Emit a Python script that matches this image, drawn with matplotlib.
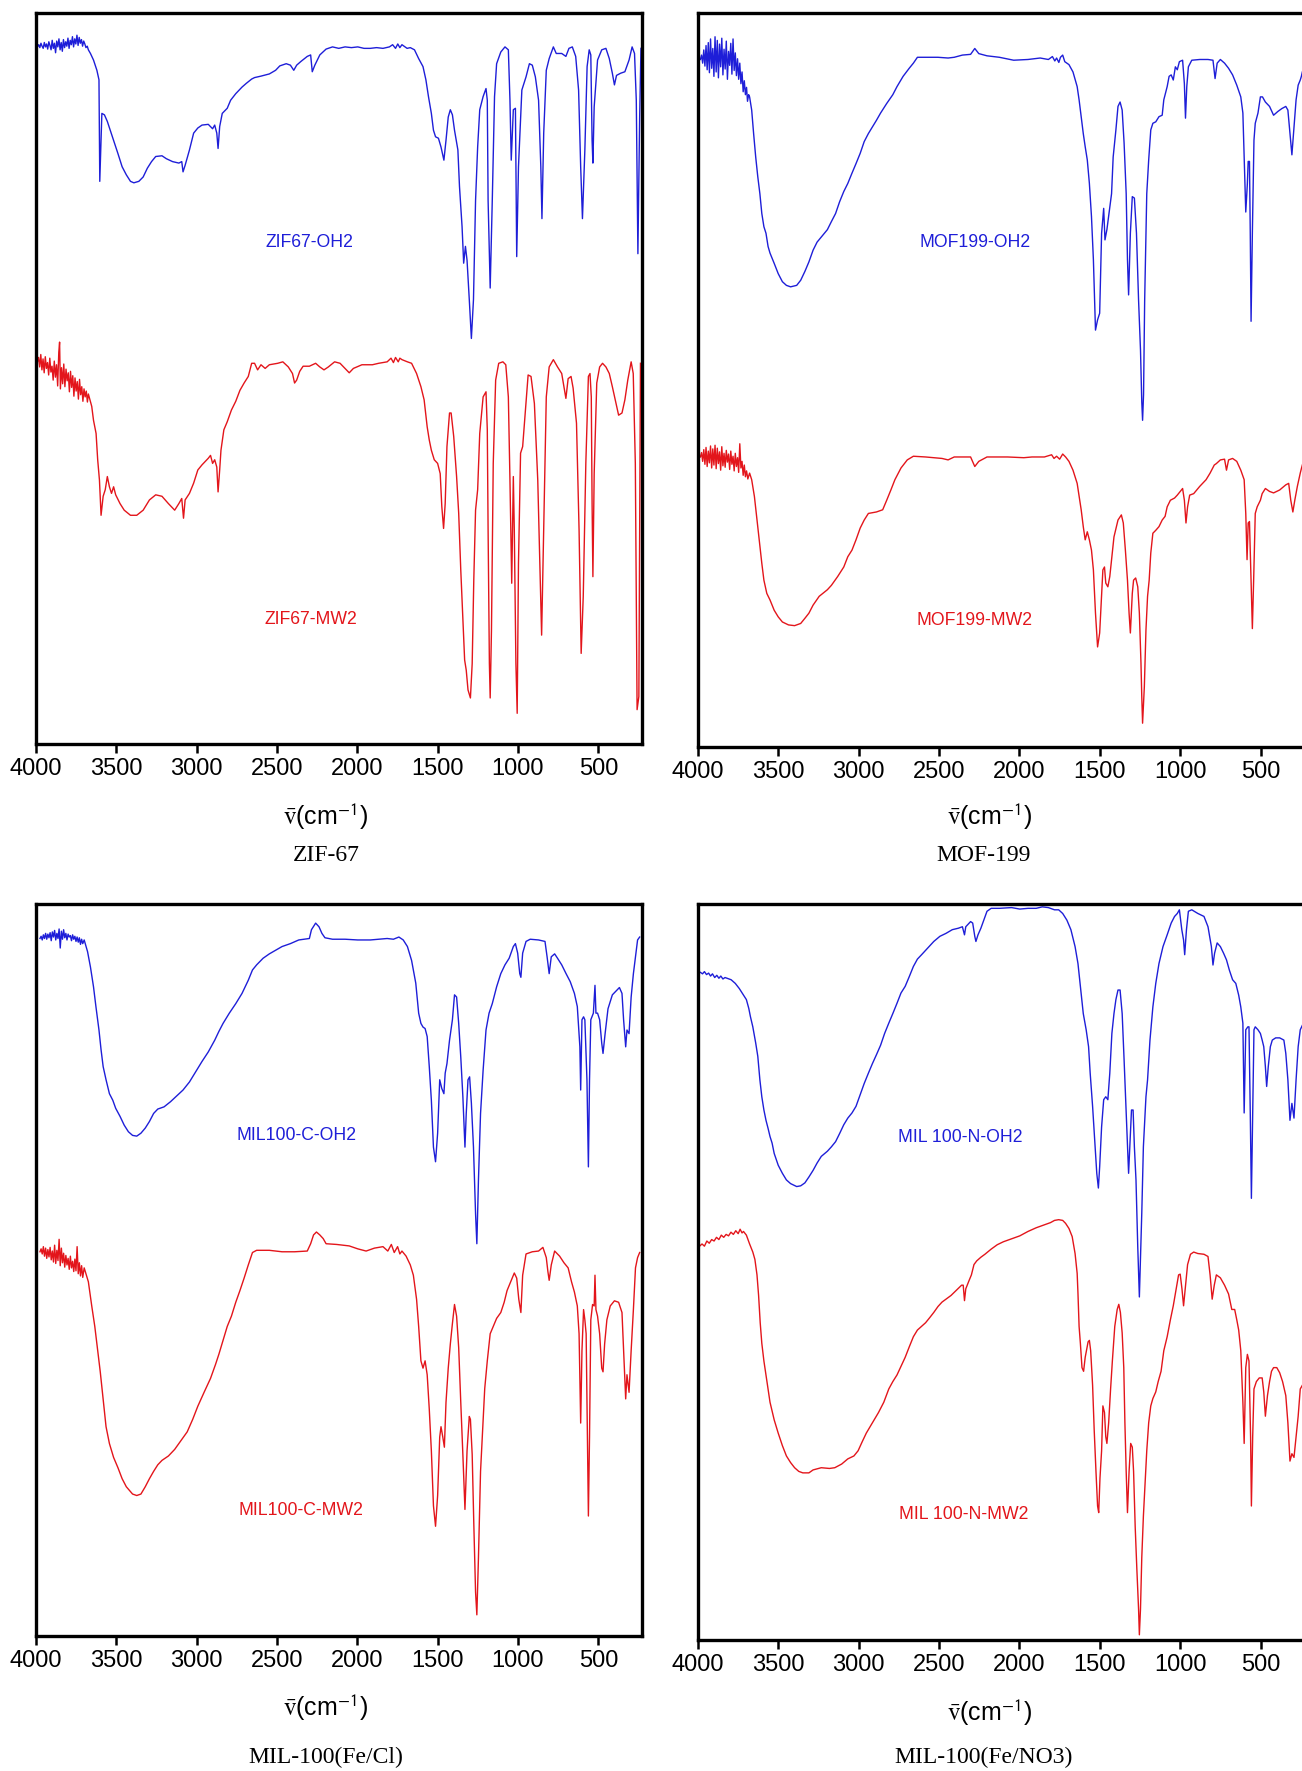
import matplotlib
matplotlib.use('Agg')
import matplotlib.pyplot as plt

plt.rcParams['font.family'] = 'Liberation Sans'
plt.rcParams['mathtext.fontset'] = 'stix'

# ── Spectra: (wavenumber cm-1, relative transmittance, offset traces) ────────
ZIF67_OH2 = [(3990,95.4),(3982,95.7),(3975,95.3),(3968,95.9),(3961,95.5),(3954,95.2),(3947,96.0),(3940,95.4),(3933,95.8),(3926,95.1),(3919,96.1),(3912,95.6),(3905,95.0),(3898,96.3),(3891,95.2),(3884,95.9),(3877,94.6),(3870,96.2),(3863,95.4),(3856,96.5),(3849,95.0),(3842,96.0),(3835,94.8),(3828,96.4),(3821,95.3),(3814,96.1),(3807,95.5),(3800,96.6),(3793,95.2),(3786,96.3),(3779,95.7),(3772,96.8),(3765,95.4),(3758,96.5),(3751,95.8),(3744,97.0),(3737,95.6),(3730,96.7),(3723,95.9),(3716,96.4),(3709,95.5),(3702,96.2),(3695,95.8),(3688,95.3),(3680,95.5),(3673,95.0),(3660,94.5),(3641,93.6),(3620,92.2),(3607,90.9),(3602,77.0),(3589,86.3),(3573,86.1),(3555,85.2),(3537,84.0),(3516,82.6),(3489,80.8),(3463,79.0),(3437,77.9),(3411,77.0),(3390,76.8),(3359,77.0),(3332,77.6),(3306,78.8),(3280,79.7),(3254,80.4),(3215,80.5),(3188,80.1),(3149,79.7),(3110,79.5),(3092,79.7),(3084,78.3),(3071,79.2),(3044,81.3),(3018,83.6),(2992,84.3),(2966,84.7),(2927,84.8),(2900,84.2),(2887,84.7),(2874,83.6),(2866,81.5),(2856,84.5),(2840,86.3),(2809,87.0),(2788,88.1),(2756,89.0),(2717,89.9),(2691,90.4),(2657,91.0),(2639,91.2),(2599,91.4),(2547,91.7),(2508,92.2),(2482,92.8),(2442,93.1),(2416,92.9),(2395,92.2),(2377,92.9),(2351,93.4),(2311,94.1),(2290,94.3),(2280,92.0),(2264,92.9),(2233,94.3),(2194,95.1),(2154,95.4),(2115,95.2),(2076,95.4),(2036,95.3),(1997,95.4),(1958,95.2),(1919,95.2),(1880,95.3),(1840,95.2),(1800,95.4),(1780,95.7),(1762,95.2),(1748,95.8),(1735,95.3),(1722,95.7),(1709,95.5),(1690,95.2),(1670,95.3),(1644,95.0),(1618,93.8),(1591,92.7),(1573,90.9),(1557,88.6),(1539,86.3),(1526,84.0),(1513,83.1),(1495,82.9),(1479,81.7),(1461,79.9),(1448,82.6),(1434,85.8),(1421,86.8),(1408,86.1),(1395,84.0),(1374,81.3),(1364,76.3),(1348,70.8),(1338,65.8),(1327,68.1),(1317,66.2),(1303,60.8),(1290,55.5),(1277,60.8),(1264,74.4),(1251,81.7),(1238,86.8),(1217,88.6),(1199,89.7),(1191,88.1),(1186,74.4),(1173,62.4),(1160,74.4),(1146,88.6),(1133,93.1),(1107,94.7),(1081,95.4),(1060,95.0),(1050,88.1),(1042,79.9),(1029,86.8),(1016,87.0),(1008,66.7),(997,79.0),(976,89.5),(950,91.3),(929,93.1),(911,92.9),(892,91.3),(872,88.1),(858,79.0),(851,71.9),(840,83.6),(824,92.2),(806,93.8),(780,95.4),(762,94.5),(728,94.5),(702,94.1),(683,95.2),(662,95.4),(641,94.1),(623,89.5),(610,79.0),(599,71.9),(584,81.3),(570,92.7),(557,95.0),(547,94.3),(539,82.6),(534,79.5),(526,87.2),(505,93.6),(479,95.0),(453,95.2),(432,93.8),(413,91.8),(400,90.2),(387,91.5),(361,91.8),(335,92.0),(309,93.6),(290,95.4),(275,94.5),(264,88.1),(254,67.1),(243,85.8),(235,95.2)]

ZIF67_MW2 = [(3990,52.3),(3983,52.9),(3976,51.6),(3969,53.3),(3962,51.2),(3955,52.7),(3948,50.8),(3941,53.0),(3934,51.4),(3927,52.2),(3920,50.5),(3913,52.8),(3906,50.9),(3899,51.7),(3892,49.8),(3885,52.4),(3878,50.2),(3871,51.9),(3864,49.0),(3857,53.6),(3852,55.0),(3847,48.6),(3840,51.5),(3833,49.3),(3826,52.0),(3819,48.9),(3812,51.3),(3805,49.7),(3798,50.8),(3791,48.2),(3784,51.0),(3777,48.8),(3770,50.4),(3763,47.6),(3756,50.1),(3749,48.3),(3742,49.6),(3735,47.2),(3728,49.9),(3721,47.8),(3714,48.9),(3707,46.9),(3700,48.6),(3693,47.5),(3686,48.3),(3679,46.8),(3673,47.9),(3652,46.2),(3641,44.3),(3625,42.5),(3615,38.9),(3604,36.1),(3594,31.3),(3581,33.9),(3568,34.8),(3555,36.6),(3542,35.2),(3529,34.3),(3516,35.2),(3503,34.1),(3476,32.9),(3450,32.0),(3411,31.3),(3372,31.3),(3332,32.0),(3293,33.4),(3254,34.1),(3215,33.9),(3175,32.9),(3136,32.0),(3110,32.9),(3092,33.6),(3081,30.9),(3071,33.4),(3044,34.3),(3018,35.7),(2992,37.5),(2966,38.2),(2927,39.1),(2913,39.5),(2900,38.4),(2887,38.9),(2874,37.9),(2866,34.5),(2856,37.5),(2848,40.2),(2830,43.0),(2809,44.1),(2783,45.7),(2756,46.9),(2730,48.4),(2704,49.4),(2678,50.3),(2657,52.1),(2639,52.1),(2620,51.2),(2599,51.9),(2573,51.4),(2547,51.9),(2495,52.1),(2463,52.3),(2429,51.6),(2403,50.7),(2390,49.4),(2377,49.8),(2358,51.0),(2337,51.7),(2298,51.7),(2259,52.1),(2233,51.6),(2207,51.2),(2180,51.6),(2141,52.3),(2107,52.1),(2076,51.4),(2050,50.8),(2024,51.4),(1971,51.9),(1906,51.9),(1867,52.1),(1814,52.3),(1790,52.8),(1775,52.2),(1762,52.9),(1745,52.3),(1735,52.8),(1722,52.6),(1688,52.3),(1662,52.1),(1631,50.7),(1604,48.9),(1584,47.1),(1565,43.4),(1552,41.6),(1539,40.2),(1521,38.9),(1500,38.4),(1484,37.0),(1474,32.5),(1463,29.5),(1453,32.9),(1442,40.7),(1426,45.3),(1416,45.3),(1400,42.1),(1382,36.6),(1369,31.6),(1356,23.8),(1343,17.0),(1332,11.5),(1322,10.1),(1311,7.4),(1296,6.3),(1285,11.0),(1275,22.5),(1264,32.0),(1251,34.8),(1238,42.5),(1217,47.5),(1199,48.2),(1191,43.0),(1186,29.3),(1178,11.0),(1173,6.3),(1165,15.6),(1154,38.4),(1139,49.8),(1120,52.1),(1094,52.3),(1076,51.9),(1060,47.5),(1050,36.1),(1039,22.0),(1029,36.6),(1023,29.3),(1013,11.0),(1005,4.2),(997,24.7),(984,39.8),(971,40.7),(955,45.3),(937,50.5),(919,50.3),(898,46.6),(877,36.1),(864,24.7),(853,14.9),(840,29.3),(824,47.5),(806,51.6),(780,52.6),(754,51.6),(728,50.7),(702,47.3),(688,50.0),(670,50.3),(657,48.7),(636,43.9),(620,29.3),(607,12.4),(594,20.2),(578,38.4),(562,50.3),(552,50.7),(544,47.5),(539,32.9),(534,22.9),(526,37.0),(510,49.4),(492,51.6),(474,52.1),(453,51.6),(432,50.7),(413,48.9),(395,47.1),(374,45.0),(353,45.3),(335,47.1),(317,49.8),(296,52.3),(283,50.7),(270,38.4),(259,4.7),(248,6.5),(238,52.1)]

MOF199_OH2 = [(3985,93.7),(3978,94.3),(3971,93.2),(3964,95.0),(3957,92.8),(3950,95.6),(3943,92.3),(3936,96.0),(3929,91.9),(3922,96.5),(3915,92.5),(3908,95.2),(3901,91.4),(3894,96.8),(3887,92.0),(3880,96.3),(3873,91.2),(3866,95.8),(3859,92.7),(3852,96.6),(3845,91.6),(3838,95.1),(3831,92.4),(3824,96.2),(3817,91.0),(3810,94.8),(3803,92.9),(3796,95.9),(3789,91.7),(3782,96.5),(3775,92.2),(3768,94.6),(3761,91.5),(3754,93.8),(3747,91.0),(3740,93.2),(3733,90.4),(3726,92.0),(3719,89.3),(3712,90.8),(3705,88.9),(3698,89.9),(3692,88.0),(3685,88.9),(3679,88.6),(3666,86.8),(3654,83.6),(3641,80.4),(3628,77.7),(3615,75.4),(3603,72.7),(3590,70.9),(3577,70.0),(3564,68.2),(3552,67.3),(3526,65.9),(3501,64.5),(3475,63.4),(3450,62.9),(3424,62.7),(3386,62.9),(3361,63.6),(3335,64.8),(3310,66.1),(3284,67.7),(3259,68.8),(3221,69.8),(3195,70.5),(3170,71.6),(3144,72.7),(3119,74.3),(3093,75.7),(3068,76.8),(3042,78.2),(3017,79.5),(2991,80.9),(2966,82.5),(2940,83.6),(2915,84.5),(2890,85.4),(2864,86.4),(2826,87.7),(2788,88.9),(2762,90.0),(2724,91.4),(2686,92.5),(2660,93.2),(2635,94.0),(2584,94.0),(2507,94.0),(2444,93.9),(2406,94.0),(2355,94.3),(2304,94.4),(2278,95.2),(2253,94.5),(2202,94.2),(2125,94.0),(2036,93.6),(1947,93.7),(1871,93.9),(1820,93.7),(1795,94.1),(1780,93.5),(1769,93.9),(1755,93.3),(1745,94.0),(1731,94.3),(1718,93.4),(1692,93.0),(1667,92.0),(1641,90.0),(1629,88.2),(1616,85.9),(1603,83.6),(1591,81.8),(1578,80.0),(1565,76.8),(1552,72.3),(1540,66.4),(1527,56.8),(1514,58.2),(1501,59.1),(1489,70.0),(1476,73.4),(1468,69.1),(1456,70.5),(1443,72.7),(1427,75.4),(1417,80.4),(1400,84.1),(1387,87.3),(1374,87.9),(1361,86.8),(1349,82.3),(1336,75.4),(1328,66.4),(1321,61.6),(1310,70.0),(1298,75.0),(1285,74.8),(1272,70.0),(1259,60.9),(1247,54.1),(1239,47.0),(1234,44.5),(1228,48.0),(1221,60.9),(1208,75.4),(1196,80.0),(1183,84.1),(1170,85.0),(1152,85.2),(1132,85.9),(1112,86.1),(1102,88.2),(1081,90.0),(1069,91.4),(1056,91.6),(1043,90.9),(1030,92.7),(1018,92.3),(1005,93.4),(985,93.6),(974,90.4),(967,85.7),(959,90.0),(949,92.7),(928,93.6),(878,93.7),(827,93.7),(796,93.6),(783,91.1),(770,93.2),(750,93.7),(724,93.2),(699,92.5),(674,91.6),(648,90.2),(623,88.6),(610,86.4),(602,80.4),(592,72.9),(582,76.8),(577,79.8),(569,79.8),(564,70.0),(559,58.0),(551,70.0),(541,82.7),(533,85.0),(516,86.4),(501,88.6),(488,88.6),(470,87.9),(444,87.3),(419,86.1),(393,86.6),(368,87.0),(343,87.3),(330,86.8),(317,83.6),(305,80.7),(292,84.5),(279,88.2),(266,90.2),(253,90.9),(246,91.4),(240,92.0),(232,92.5)]

MOF199_MW2 = [(3985,39.5),(3978,40.1),(3971,38.9),(3964,40.5),(3957,38.5),(3950,40.8),(3943,38.2),(3936,40.3),(3929,38.7),(3922,41.0),(3915,38.0),(3908,40.6),(3901,38.4),(3894,41.1),(3887,37.9),(3880,40.7),(3873,38.6),(3866,40.2),(3859,37.7),(3852,40.9),(3845,38.3),(3838,40.0),(3831,38.1),(3824,40.4),(3817,38.8),(3810,39.9),(3803,37.8),(3796,40.3),(3789,38.5),(3782,39.6),(3775,37.6),(3768,40.0),(3761,38.2),(3754,39.4),(3747,37.4),(3740,41.3),(3733,38.0),(3726,38.9),(3719,37.0),(3712,38.4),(3705,36.8),(3698,37.6),(3690,36.5),(3679,37.3),(3666,36.4),(3649,34.1),(3633,30.9),(3615,27.3),(3603,25.0),(3590,22.7),(3572,20.9),(3552,20.0),(3526,18.6),(3501,17.7),(3475,17.0),(3437,16.6),(3399,16.5),(3361,16.8),(3335,17.5),(3310,18.2),(3284,19.3),(3246,20.5),(3195,21.4),(3170,22.0),(3131,23.2),(3093,24.5),(3068,25.9),(3042,26.8),(3017,28.2),(2991,29.8),(2966,30.9),(2940,31.8),(2890,32.0),(2851,32.3),(2826,33.6),(2800,35.0),(2775,36.4),(2737,38.0),(2698,39.1),(2660,39.6),(2584,39.5),(2482,39.3),(2444,39.1),(2406,39.5),(2304,39.5),(2278,38.2),(2253,38.9),(2202,39.5),(2074,39.5),(1973,39.4),(1922,39.5),(1845,39.5),(1800,39.8),(1785,39.3),(1769,39.6),(1750,39.2),(1731,39.9),(1713,39.5),(1692,38.9),(1667,37.7),(1641,35.9),(1616,32.3),(1603,30.0),(1591,28.2),(1578,29.3),(1565,28.2),(1552,26.8),(1540,24.1),(1527,18.2),(1514,13.6),(1501,15.5),(1489,20.5),(1481,24.1),(1471,24.5),(1463,22.3),(1450,21.8),(1438,23.2),(1425,25.9),(1412,28.6),(1387,30.9),(1366,31.6),(1354,30.5),(1341,26.8),(1328,22.7),(1318,18.2),(1310,15.5),(1298,20.9),(1290,22.7),(1277,23.0),(1264,21.8),(1254,18.2),(1244,11.4),(1239,6.8),(1234,3.2),(1223,8.2),(1213,15.9),(1203,20.5),(1193,22.7),(1183,26.4),(1170,29.1),(1152,29.5),(1132,30.0),(1112,30.9),(1094,31.4),(1081,32.7),(1061,33.6),(1035,33.9),(1018,34.3),(1000,34.8),(985,35.2),(974,33.6),(964,30.5),(954,32.7),(941,34.3),(916,34.5),(878,35.5),(839,36.4),(814,37.3),(788,38.4),(775,38.6),(750,39.1),(724,39.2),(712,37.7),(699,39.1),(674,39.3),(648,38.9),(623,37.7),(602,36.4),(592,31.8),(584,25.5),(577,30.5),(569,30.7),(559,22.7),(551,16.1),(543,22.7),(533,31.8),(521,32.7),(501,33.6),(490,34.5),(470,35.2),(444,34.8),(419,34.6),(381,35.0),(343,35.7),(325,35.9),(312,33.6),(299,32.0),(287,33.6),(271,35.5),(253,37.3),(245,38.0),(235,38.8)]

MIL100C_OH2 = [(3974,95.3),(3967,95.6),(3960,95.1),(3953,95.8),(3946,95.3),(3939,96.0),(3932,95.2),(3925,95.9),(3918,95.4),(3911,96.1),(3904,95.0),(3897,96.2),(3890,95.5),(3883,96.4),(3876,95.1),(3869,96.0),(3862,95.3),(3855,96.6),(3848,94.0),(3841,96.3),(3834,95.2),(3827,96.5),(3820,95.4),(3813,96.0),(3806,95.1),(3799,95.9),(3792,95.5),(3785,95.7),(3778,95.0),(3771,95.8),(3764,95.2),(3757,95.6),(3750,94.9),(3743,95.5),(3736,94.8),(3729,95.4),(3722,94.5),(3715,95.2),(3708,94.6),(3699,95.1),(3678,93.5),(3660,91.4),(3641,88.7),(3626,86.0),(3607,82.8),(3594,80.1),(3581,77.8),(3563,76.0),(3542,74.1),(3521,73.2),(3503,72.1),(3476,71.0),(3450,69.8),(3424,68.9),(3398,68.4),(3372,68.3),(3346,68.7),(3319,69.4),(3293,70.3),(3267,71.4),(3241,72.0),(3202,72.3),(3162,73.0),(3123,73.8),(3084,74.6),(3044,75.7),(3005,77.1),(2966,78.5),(2927,79.8),(2887,81.4),(2861,82.6),(2835,83.7),(2796,85.1),(2756,86.4),(2717,87.8),(2678,89.6),(2652,91.0),(2626,91.7),(2586,92.6),(2547,93.2),(2508,93.7),(2468,94.2),(2416,94.6),(2364,95.1),(2298,95.3),(2285,96.5),(2259,97.4),(2238,96.9),(2220,96.0),(2201,95.4),(2154,95.2),(2076,95.2),(1997,95.1),(1919,95.1),(1866,95.2),(1814,95.3),(1775,95.2),(1741,95.5),(1714,95.1),(1688,94.2),(1662,92.3),(1636,89.2),(1618,85.1),(1604,83.7),(1591,83.2),(1578,83.0),(1565,81.9),(1552,77.8),(1539,73.2),(1526,66.8),(1513,64.8),(1500,68.7),(1487,76.0),(1474,74.8),(1461,74.1),(1453,76.9),(1442,78.2),(1426,81.4),(1408,84.2),(1395,87.6),(1382,87.3),(1369,83.7),(1356,79.1),(1343,73.7),(1330,66.8),(1322,71.4),(1311,76.0),(1301,76.4),(1290,72.8),(1277,66.8),(1264,57.7),(1256,53.6),(1246,62.3),(1233,71.4),(1217,77.3),(1199,82.8),(1180,85.1),(1160,86.4),(1133,88.7),(1107,90.5),(1081,91.7),(1055,92.6),(1029,94.2),(1016,94.6),(1002,93.3),(989,90.5),(982,90.0),(971,93.3),(950,94.9),(924,95.2),(872,95.1),(832,94.9),(819,92.8),(806,90.5),(793,92.8),(772,93.2),(754,92.6),(728,91.7),(701,90.5),(675,89.4),(649,87.8),(631,86.0),(615,80.5),(610,74.6),(602,84.2),(592,84.6),(584,84.2),(571,76.0),(562,64.1),(555,76.0),(547,84.2),(531,85.1),(521,88.9),(515,85.1),(505,85.1),(492,84.2),(479,81.0),(471,79.6),(458,82.3),(440,85.7),(413,87.6),(387,88.2),(369,88.6),(353,87.8),(343,84.2),(330,80.5),(322,82.8),(309,82.3),(296,87.3),(282,90.5),(269,92.8),(256,95.1),(243,95.5)]

MIL100C_MW2 = [(3974,52.5),(3967,52.9),(3960,52.2),(3953,53.2),(3946,51.9),(3939,53.0),(3932,51.6),(3925,52.8),(3918,51.8),(3911,53.1),(3904,51.4),(3897,52.6),(3890,51.1),(3883,53.4),(3876,50.9),(3869,52.7),(3862,51.3),(3855,54.2),(3848,50.6),(3841,53.0),(3834,51.0),(3827,52.3),(3820,50.4),(3813,52.0),(3806,50.7),(3799,51.6),(3792,50.1),(3785,51.9),(3778,50.3),(3771,51.2),(3764,49.8),(3757,51.5),(3750,49.9),(3743,53.2),(3736,49.5),(3729,51.0),(3722,49.2),(3715,50.6),(3708,49.0),(3699,50.3),(3673,48.4),(3652,45.1),(3633,42.3),(3615,39.0),(3599,36.1),(3581,32.4),(3563,28.6),(3542,26.3),(3516,24.4),(3489,23.0),(3463,21.5),(3437,20.4),(3398,19.4),(3372,19.2),(3346,19.4),(3319,20.4),(3293,21.5),(3267,22.5),(3241,23.4),(3215,24.0),(3175,24.6),(3136,25.5),(3097,26.7),(3058,27.9),(3024,29.6),(2992,31.4),(2953,33.3),(2913,35.2),(2882,37.1),(2861,38.5),(2835,40.4),(2809,42.3),(2783,43.7),(2756,45.6),(2730,47.2),(2704,48.9),(2678,50.7),(2652,52.4),(2626,52.7),(2547,52.7),(2468,52.5),(2390,52.5),(2311,52.6),(2290,53.6),(2272,54.8),(2254,55.2),(2233,54.8),(2212,54.3),(2194,53.6),(2128,53.5),(2050,53.3),(1997,52.9),(1945,52.6),(1893,53.0),(1840,53.2),(1810,52.6),(1788,53.5),(1770,52.4),(1749,53.2),(1735,52.2),(1722,52.6),(1696,51.9),(1670,50.7),(1651,49.3),(1631,46.0),(1618,42.3),(1604,37.6),(1591,36.6),(1578,37.6),(1565,35.7),(1552,31.0),(1539,25.3),(1526,17.8),(1513,15.0),(1500,19.2),(1487,27.2),(1479,28.6),(1468,27.2),(1458,25.8),(1448,31.9),(1434,36.6),(1421,39.9),(1408,42.7),(1395,45.3),(1382,43.7),(1369,39.4),(1356,31.9),(1343,24.8),(1330,17.3),(1317,25.3),(1303,30.0),(1296,29.6),(1285,24.8),(1275,15.4),(1264,6.0),(1256,2.9),(1246,10.7),(1233,22.5),(1217,29.6),(1207,33.8),(1191,37.6),(1173,41.3),(1146,42.7),(1133,43.4),(1107,44.2),(1086,45.6),(1068,47.2),(1042,48.6),(1023,49.6),(1008,48.9),(995,46.0),(982,44.2),(971,49.3),(950,52.2),(911,52.5),(872,52.6),(845,53.1),(824,51.7),(814,49.8),(806,48.6),(793,50.7),(772,52.6),(741,51.9),(714,51.0),(688,50.3),(667,48.4),(649,47.0),(631,45.1),(620,41.3),(610,29.1),(602,39.0),(592,44.6),(584,43.2),(576,41.3),(568,27.2),(562,16.4),(555,27.2),(547,43.2),(536,45.3),(526,45.1),(521,49.3),(515,44.6),(505,43.7),(492,41.3),(479,36.6),(471,36.1),(461,39.9),(447,43.2),(426,45.1),(400,45.8),(374,45.6),(353,44.2),(343,39.0),(330,32.4),(322,35.7),(309,33.3),(296,39.0),(282,44.6),(269,50.3),(256,51.7),(243,52.4)]

MIL100N_OH2 = [(3985,90.7),(3972,90.5),(3960,90.8),(3947,90.4),(3934,90.6),(3922,90.2),(3910,90.5),(3896,90.0),(3883,90.3),(3870,89.9),(3858,90.2),(3845,89.8),(3832,90.0),(3794,89.7),(3768,89.2),(3743,88.5),(3717,87.6),(3699,87.0),(3684,85.8),(3674,84.7),(3659,83.3),(3641,81.1),(3628,79.3),(3615,76.1),(3603,73.8),(3590,72.0),(3577,70.6),(3564,69.5),(3552,68.4),(3539,67.5),(3526,66.1),(3501,64.5),(3475,63.4),(3450,62.5),(3424,62.0),(3386,61.6),(3361,61.7),(3335,62.1),(3310,62.9),(3284,63.8),(3259,64.8),(3233,65.7),(3195,66.4),(3170,67.0),(3144,67.7),(3119,68.8),(3093,70.0),(3068,70.9),(3042,71.6),(3017,72.5),(2991,74.1),(2966,75.6),(2940,77.0),(2915,78.3),(2890,79.5),(2864,80.8),(2839,82.4),(2813,83.8),(2788,85.1),(2762,86.5),(2737,87.9),(2711,88.8),(2686,90.1),(2660,91.5),(2635,92.5),(2609,93.1),(2571,94.0),(2533,94.9),(2495,95.6),(2457,96.0),(2418,96.5),(2380,96.7),(2355,96.9),(2342,95.8),(2334,96.9),(2304,97.6),(2291,97.4),(2278,95.6),(2271,94.9),(2258,95.8),(2240,96.7),(2222,97.8),(2202,99.0),(2176,99.4),(2125,99.4),(2049,99.5),(1998,99.3),(1947,99.4),(1896,99.4),(1858,99.6),(1820,99.5),(1782,99.2),(1756,99.2),(1731,98.7),(1705,97.8),(1680,96.5),(1654,94.2),(1636,91.9),(1621,88.8),(1603,85.1),(1585,82.9),(1570,80.6),(1560,77.0),(1545,72.5),(1529,67.0),(1519,63.4),(1509,61.4),(1501,64.3),(1489,69.7),(1476,73.4),(1463,73.8),(1450,73.4),(1438,77.0),(1425,82.4),(1412,85.1),(1400,87.0),(1387,88.3),(1374,88.3),(1361,85.1),(1349,78.8),(1336,71.6),(1328,67.0),(1321,63.4),(1310,68.8),(1303,72.0),(1293,72.0),(1285,67.0),(1275,62.5),(1264,53.4),(1254,46.6),(1239,58.0),(1229,67.0),(1213,73.8),(1203,76.1),(1188,81.5),(1170,86.0),(1152,89.2),(1132,91.9),(1107,94.2),(1081,95.8),(1056,97.4),(1035,98.3),(1018,98.7),(1005,99.2),(990,96.5),(979,95.1),(972,93.1),(961,96.5),(949,99.0),(928,99.2),(890,98.7),(852,98.3),(827,96.9),(806,94.2),(796,91.7),(786,93.3),(770,94.7),(750,94.2),(730,93.3),(712,92.4),(694,91.0),(674,89.7),(654,89.2),(636,87.6),(623,86.0),(610,83.8),(602,71.6),(592,82.9),(579,83.3),(572,83.3),(564,71.6),(557,60.0),(549,71.6),(541,82.9),(533,83.3),(516,82.9),(501,82.4),(490,81.5),(480,80.6),(470,77.9),(462,75.2),(452,77.9),(439,80.6),(427,81.5),(406,81.8),(381,81.8),(355,81.5),(343,79.7),(330,76.1),(317,70.6),(305,72.9),(292,70.9),(279,76.1),(266,80.6),(253,82.9),(240,83.5)]

MIL100N_MW2 = [(3990,53.5),(3975,53.8),(3960,53.5),(3945,54.2),(3930,53.9),(3915,54.4),(3900,54.2),(3885,54.7),(3870,54.4),(3855,55.0),(3840,54.7),(3825,55.1),(3810,54.9),(3795,55.4),(3780,55.1),(3765,55.6),(3750,55.2),(3738,55.8),(3726,55.3),(3717,55.5),(3699,55.0),(3679,53.8),(3659,52.7),(3646,51.7),(3633,49.6),(3623,46.8),(3613,43.1),(3603,40.3),(3590,37.9),(3577,36.0),(3564,34.1),(3552,32.3),(3526,29.9),(3501,28.1),(3475,26.4),(3450,25.0),(3424,24.1),(3399,23.4),(3373,22.9),(3348,22.7),(3310,22.7),(3284,23.1),(3233,23.4),(3182,23.3),(3149,23.4),(3106,23.9),(3068,24.6),(3030,25.0),(3004,25.7),(2979,26.9),(2953,28.1),(2915,29.5),(2877,30.9),(2844,32.3),(2813,34.1),(2788,35.1),(2762,36.0),(2732,37.4),(2711,38.4),(2686,39.8),(2660,41.2),(2635,42.1),(2609,42.6),(2584,43.1),(2558,43.8),(2533,44.5),(2507,45.3),(2482,45.9),(2457,46.3),(2426,46.8),(2393,47.5),(2360,48.2),(2350,48.2),(2342,46.1),(2334,47.7),(2316,48.7),(2299,49.6),(2283,51.0),(2266,51.5),(2240,52.0),(2215,52.4),(2176,53.1),(2138,53.7),(2100,54.1),(2049,54.5),(1998,54.9),(1947,55.5),(1896,56.0),(1845,56.4),(1807,56.7),(1782,57.0),(1756,57.1),(1731,57.0),(1713,56.6),(1692,55.9),(1672,54.8),(1654,52.5),(1641,49.8),(1636,47.1),(1629,42.6),(1621,40.3),(1611,37.0),(1601,36.5),(1591,38.4),(1583,39.3),(1573,40.5),(1565,40.7),(1557,39.3),(1545,34.6),(1535,28.5),(1524,22.9),(1514,18.2),(1507,17.3),(1499,22.0),(1489,25.7),(1481,31.8),(1471,30.9),(1463,27.6),(1456,26.7),(1445,29.5),(1433,34.1),(1422,37.9),(1407,42.6),(1392,44.9),(1382,45.6),(1372,44.5),(1361,41.7),(1351,37.0),(1344,29.5),(1336,22.9),(1328,17.3),(1318,22.9),(1308,26.7),(1298,26.2),(1290,22.9),(1280,15.4),(1270,9.8),(1259,4.2),(1254,0.7),(1247,4.2),(1239,11.2),(1229,16.8),(1219,21.0),(1208,25.7),(1196,29.5),(1183,31.8),(1170,32.8),(1152,33.7),(1137,35.1),(1119,36.5),(1102,39.3),(1081,41.2),(1061,43.5),(1043,45.4),(1025,47.7),(1010,49.6),(1000,49.7),(989,47.7),(979,45.4),(969,47.7),(954,51.0),(936,52.4),(916,52.7),(890,52.5),(852,52.4),(827,52.1),(814,49.6),(801,46.3),(788,48.2),(775,49.6),(750,49.2),(724,48.2),(699,47.0),(679,44.9),(661,44.9),(648,43.5),(636,42.1),(623,39.3),(610,32.3),(602,26.7),(592,37.0),(582,38.8),(572,37.9),(562,27.6),(557,18.2),(549,27.6),(541,34.1),(526,35.1),(508,35.6),(490,35.6),(480,33.7),(470,30.4),(457,33.2),(444,35.1),(432,36.5),(419,37.0),(399,37.0),(381,36.3),(363,35.1),(343,33.2),(330,29.5),(317,24.3),(305,25.3),(292,24.8),(279,27.6),(266,30.4),(253,34.1),(240,34.6)]

XTICKS = [4000, 3500, 3000, 2500, 2000, 1500, 1000, 500]
BLUE = '#1e1ed8'
RED = '#e3151b'

# ── Figure ───────────────────────────────────────────────────────────────────
fig = plt.figure(figsize=(13.02, 17.71), dpi=100)


def draw_panel(rect, oh, mw, oh_name, mw_name, oh_pos, mw_pos):
    ax = fig.add_axes(rect)
    wn, t = zip(*oh)
    ax.plot(wn, t, color=BLUE, lw=1.0)
    wn, t = zip(*mw)
    ax.plot(wn, t, color=RED, lw=1.0)
    ax.set_xlim(4000, 230)
    ax.set_ylim(0, 100)
    ax.set_xticks(XTICKS)
    ax.set_yticks([])
    ax.tick_params(axis='x', direction='out', length=6.7, width=1.8,
                   labelsize=17, pad=3.5)
    for s in ax.spines.values():
        s.set_linewidth(2.4)
    ax.text(oh_pos[0], oh_pos[1], oh_name, transform=ax.transAxes,
            color=BLUE, fontsize=12.7, ha='center', va='center')
    ax.text(mw_pos[0], mw_pos[1], mw_name, transform=ax.transAxes,
            color=RED, fontsize=12.7, ha='center', va='center')
    return ax


draw_panel([0.0275, 0.5799, 0.4654, 0.4126], ZIF67_OH2, ZIF67_MW2,
           'ZIF67-OH2', 'ZIF67-MW2', (0.452, 0.686), (0.454, 0.170))
draw_panel([0.5361, 0.5784, 0.4654, 0.4141], MOF199_OH2, MOF199_MW2,
           'MOF199-OH2', 'MOF199-MW2', (0.457, 0.687), (0.457, 0.172))
draw_panel([0.0275, 0.0762, 0.4654, 0.4133], MIL100C_OH2, MIL100C_MW2,
           'MIL100-C-OH2', 'MIL100-C-MW2', (0.430, 0.684), (0.438, 0.172))
draw_panel([0.5361, 0.0740, 0.4654, 0.4156], MIL100N_OH2, MIL100N_MW2,
           'MIL 100-N-OH2', 'MIL 100-N-MW2', (0.432, 0.683), (0.439, 0.170))

# axis labels and panel captions
XLAB = r'$\bar{\mathrm{v}}$(cm$^{\mathsf{-1}}$)'
for x, y in [(0.2504, 0.5387), (0.7604, 0.5387), (0.2504, 0.0356), (0.7604, 0.0329)]:
    fig.text(x, y, XLAB, fontsize=18, ha='center', va='center')

captions = ['ZIF-67', 'MOF-199', 'MIL-100(Fe/Cl)', 'MIL-100(Fe/NO3)']
for (x, y), c in zip([(0.2504, 0.5169), (0.7554, 0.5169), (0.2504, 0.0076), (0.7554, 0.0076)], captions):
    fig.text(x, y, c, fontsize=17, ha='center', va='center', family='Liberation Serif')

fig.savefig('out.png', dpi=100)
